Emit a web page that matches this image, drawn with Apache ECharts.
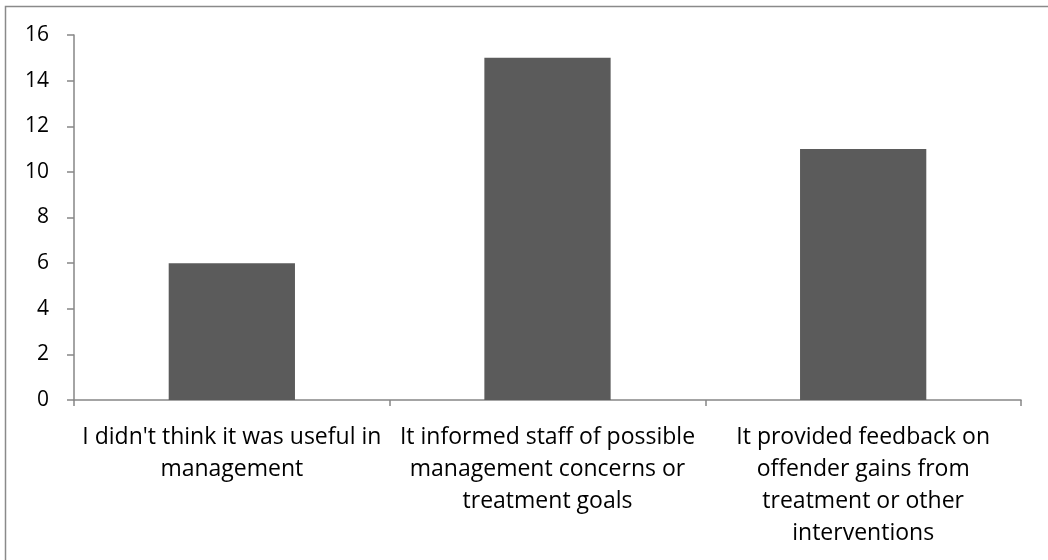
<!DOCTYPE html>
<html>
<head>
<meta charset="utf-8">
<script src="https://cdn.jsdelivr.net/npm/echarts@6/dist/echarts.min.js"></script>
<style>
  html, body { margin: 0; padding: 0; background: #fff; }
  #chart { width: 1048px; height: 560px; }
</style>
</head>
<body>
<div id="chart"></div>
<script>
// Survey responses: reasons given, with respondent counts
const categories = [
  "I didn't think it was useful in\nmanagement",
  "It informed staff of possible\nmanagement concerns or\ntreatment goals",
  "It provided feedback on\noffender gains from\ntreatment or other\ninterventions"
];
const counts = [6, 15, 11];
const yTicks = { min: 0, max: 16, interval: 2 };

const axisGray = '#868686';
const font = '"Open Sans", sans-serif';
const chart = echarts.init(document.getElementById('chart'));
chart.setOption({
  animation: false,
  textStyle: { fontFamily: font },
  // chart-area frame (its right and bottom edges fall outside the canvas)
  graphic: [{
    type: 'rect',
    shape: { x: 5.5, y: 6.5, width: 1060, height: 580 },
    style: { fill: 'none', stroke: '#8a8a8a', lineWidth: 1.5 },
    silent: true
  }],
  grid: { left: 74, right: 27, top: 35, bottom: 160, containLabel: false, outerBoundsMode: 'none' },
  xAxis: {
    type: 'category',
    data: categories,
    axisLine: { lineStyle: { color: axisGray, width: 1.5 } },
    axisTick: { show: true, length: 6, lineStyle: { color: axisGray, width: 1.5 } },
    axisLabel: {
      interval: 0, margin: 21, color: '#000', fontSize: 23, lineHeight: 32,
      fontFamily: font, overflow: 'none', hideOverlap: false
    },
    splitLine: { show: false }
  },
  yAxis: {
    type: 'value',
    min: yTicks.min, max: yTicks.max, interval: yTicks.interval,
    axisLine: { show: true, lineStyle: { color: axisGray, width: 1.5 } },
    axisTick: { show: true, length: 7, lineStyle: { color: axisGray, width: 1.5 } },
    axisLabel: { margin: 25, color: '#000', fontSize: 21, fontFamily: font },
    splitLine: { show: false }
  },
  series: [{
    type: 'bar',
    data: counts,
    barWidth: '40%',
    itemStyle: { color: '#5b5b5b' }
  }]
});
</script>
</body>
</html>
